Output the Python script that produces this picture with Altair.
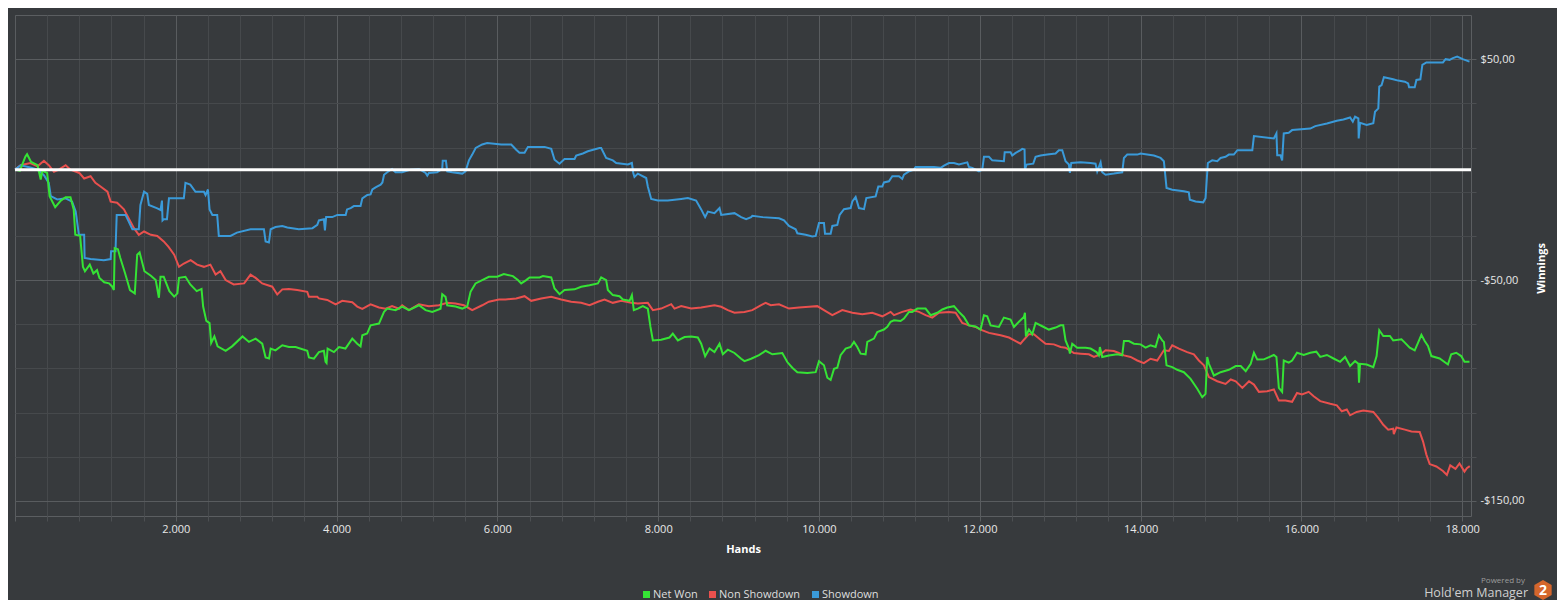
import altair as alt
import pandas as pd

# ---- Data (hands, winnings in $) ----
NET_WON = [
    (0, 0), (60, -0.5), (130, 6), (150, 7), (200, 3.5), (280, 2), (320, -4.5), (340, -0.5), (400, -1.5),
    (430, -12), (500, -17), (570, -14), (630, -12.5), (690, -12.5), (730, -18), (750, -29.5), (810, -30),
    (845, -44), (870, -46), (930, -43), (975, -47), (1020, -45.5), (1050, -49), (1110, -51), (1170, -51.5),
    (1210, -53), (1230, -54.5), (1240, -35.5), (1280, -36), (1310, -40), (1370, -47), (1430, -54.5),
    (1490, -56), (1520, -38.5), (1550, -37.5), (1610, -46), (1690, -48), (1750, -50), (1790, -58),
    (1810, -48.5), (1850, -48.5), (1920, -55), (1980, -57.5), (2020, -56), (2040, -49), (2120, -48.5),
    (2180, -52), (2260, -55), (2320, -54), (2340, -62), (2380, -68.5), (2420, -69.5), (2440, -78.5),
    (2480, -75.5), (2520, -80), (2620, -82), (2700, -80), (2830, -75.5), (2910, -78), (2993, -76.5),
    (3075, -78.8), (3117, -85), (3160, -85.5), (3180, -81), (3240, -81.8), (3325, -79.5), (3407, -80.3),
    (3490, -80.3), (3635, -82), (3656, -85), (3718, -85.6), (3780, -82.6), (3842, -82), (3863, -87),
    (3875, -87.5), (3888, -81), (3967, -82.6), (4030, -80.3), (4110, -81), (4195, -76.5), (4257, -78.8),
    (4298, -80), (4320, -75), (4380, -74.2), (4423, -70.5), (4527, -69.7), (4590, -64.4), (4630, -62.9),
    (4733, -63.6), (4816, -62), (4900, -63.6), (5024, -61.4), (5107, -63.6), (5190, -64.4), (5293, -63),
    (5314, -56.4), (5355, -57.6), (5376, -61.4), (5480, -62), (5563, -62.9), (5625, -62), (5666, -55.3),
    (5728, -51.5), (5811, -50), (5894, -48.5), (5998, -48.5), (6080, -47.3), (6193, -48.2), (6255, -50),
    (6296, -51.5), (6358, -50), (6400, -48.8), (6525, -48.8), (6566, -48.2), (6670, -48.8), (6711, -53.8),
    (6773, -56.4), (6835, -54.5), (6960, -54.2), (7042, -53), (7146, -52.3), (7250, -51.5), (7291, -48.8),
    (7353, -50), (7374, -54.5), (7436, -56.8), (7519, -57.3), (7561, -58.8), (7644, -59.4), (7673, -56.8),
    (7697, -63.6), (7747, -62.9), (7809, -61.8), (7871, -62.9), (7904, -71.2), (7934, -77.3), (8037, -77),
    (8141, -76), (8182, -74.2), (8245, -77.3), (8328, -75.8), (8410, -75.5), (8493, -76), (8535, -78.8),
    (8584, -84.5), (8638, -81), (8700, -82.6), (8763, -78.8), (8804, -83.6), (8866, -81.5), (8949, -83),
    (9032, -85.6), (9073, -86.7), (9156, -85.6), (9254, -84), (9337, -82), (9420, -83.6), (9544, -83),
    (9606, -87.1), (9668, -89.7), (9731, -91.7), (9855, -92.1), (9959, -91.7), (10000, -86.7),
    (10062, -88.6), (10104, -94.2), (10145, -95.2), (10187, -90.2), (10228, -89.7), (10269, -84),
    (10332, -81), (10394, -80.3), (10435, -78), (10477, -80.3), (10518, -83.3), (10580, -83.6),
    (10601, -78), (10684, -76.5), (10725, -73.5), (10808, -72.4), (10850, -71.2), (10891, -68.9),
    (10933, -68.2), (11015, -68.5), (11057, -67.4), (11119, -64.4), (11161, -64.4), (11223, -62.9),
    (11326, -62.9), (11389, -65.9), (11471, -64.8), (11534, -63.3), (11596, -62.4), (11679, -61.8),
    (11741, -64.4), (11803, -66.7), (11865, -70.5), (11948, -71), (12010, -72.4), (12052, -65.9),
    (12093, -66.4), (12135, -70.5), (12238, -71.2), (12300, -67), (12383, -67.9), (12425, -71.2),
    (12487, -68.9), (12549, -66.7), (12562, -64.8), (12574, -75.5), (12611, -72.4), (12653, -74.5),
    (12694, -69.4), (12777, -70.9), (12860, -72.4), (12943, -71.5), (13005, -70.5), (13038, -70.5),
    (13067, -77.3), (13109, -81), (13121, -83.3), (13150, -78.8), (13212, -80.6), (13316, -80.6),
    (13378, -81), (13452, -82.6), (13481, -84.1), (13494, -80.3), (13523, -84.8), (13606, -84.1),
    (13710, -83.6), (13772, -84.1), (13793, -77.6), (13855, -77.6), (13917, -78.8), (14000, -79.1),
    (14062, -80.6), (14124, -79.5), (14187, -80.3), (14228, -75), (14269, -77.3), (14290, -78),
    (14323, -88.6), (14394, -89.4), (14456, -90.6), (14539, -91.7), (14622, -94.7), (14705, -99.2),
    (14767, -103), (14808, -101.5), (14829, -84.8), (14850, -87.9), (14912, -93.2), (14995, -91.7),
    (15098, -90.6), (15184, -88.9), (15246, -88.9), (15308, -91.2), (15370, -87.9), (15410, -82.9),
    (15452, -86), (15534, -85.9), (15658, -83.9), (15690, -84.8), (15720, -98.8), (15761, -100.6),
    (15781, -86.4), (15843, -87.4), (15885, -86.4), (15946, -82.9), (16029, -83.9), (16111, -82.9),
    (16186, -82.4), (16235, -84.8), (16318, -83.9), (16400, -85.5), (16482, -87), (16544, -84.8),
    (16606, -88.9), (16668, -86.7), (16709, -87.9), (16717, -96.5), (16730, -87.9), (16812, -88.2),
    (16895, -89.4), (16936, -84.4), (16969, -72.7), (17019, -75.3), (17101, -75.3), (17142, -77.3),
    (17245, -76.8), (17287, -78.3), (17348, -80.6), (17410, -81.8), (17452, -78.3), (17493, -74.8),
    (17534, -77.6), (17575, -79.8), (17617, -84.4), (17720, -85.5), (17823, -88.2), (17864, -83.6),
    (17926, -82.9), (17988, -84.4), (18029, -87), (18091, -87),
]

NON_SHOWDOWN = [
    (0, 0), (70, 2), (190, 3), (280, 1.5), (360, 4), (420, 2), (485, -1), (545, 0), (630, 2), (690, 0),
    (800, -1.5), (860, -4), (940, -3), (1000, -6), (1060, -7.5), (1150, -10), (1190, -14.5), (1270, -15),
    (1355, -18), (1420, -22.5), (1480, -26.5), (1540, -29.5), (1605, -28), (1690, -29.5), (1770, -30),
    (1850, -32.5), (1910, -35), (1980, -38.5), (2040, -44), (2100, -42.5), (2185, -41), (2265, -43),
    (2350, -44), (2430, -43), (2495, -47.5), (2555, -46), (2620, -50), (2720, -52), (2850, -51.5),
    (2930, -47.5), (2993, -49), (3075, -51.5), (3200, -53), (3262, -56.5), (3325, -54.2), (3407, -54),
    (3510, -54.5), (3635, -55.3), (3656, -57.6), (3760, -57.6), (3780, -58.3), (3884, -59), (3988, -61),
    (4070, -59.4), (4195, -60), (4257, -62), (4320, -63), (4423, -61), (4527, -62.4), (4610, -63),
    (4690, -61.8), (4775, -63), (4816, -61.4), (4900, -63.6), (5024, -61), (5148, -61.8), (5272, -61.4),
    (5376, -60.3), (5480, -60.6), (5583, -61.4), (5687, -63.6), (5811, -61.4), (5894, -59.8),
    (6019, -58.8), (6100, -58.8), (6234, -58.3), (6338, -57.3), (6421, -59.4), (6545, -58.3),
    (6670, -57.6), (6794, -58.8), (6918, -59.8), (7042, -60.3), (7146, -61.4), (7250, -59.8),
    (7333, -58.8), (7436, -60.3), (7540, -59.4), (7664, -60.3), (7747, -60.6), (7871, -60.3),
    (7934, -63.6), (8037, -62.9), (8162, -60.9), (8203, -62.9), (8286, -61.8), (8410, -62.9),
    (8535, -62.4), (8700, -61.4), (8784, -62.1), (8866, -63.6), (8949, -64.8), (9073, -64.4),
    (9171, -63.6), (9275, -61.4), (9337, -60.3), (9400, -61.4), (9503, -61), (9627, -62.9),
    (9751, -62.4), (9876, -62.1), (9979, -61.8), (10062, -63.6), (10166, -65.9), (10290, -63.6),
    (10415, -64.8), (10539, -65.5), (10663, -64.8), (10788, -66.4), (10891, -64.4), (10933, -65.9),
    (11036, -64.4), (11140, -63.3), (11244, -64.4), (11326, -65.9), (11409, -67), (11492, -64.8),
    (11617, -64.4), (11700, -64.8), (11782, -69.4), (11865, -70.5), (11948, -71.2), (12010, -72.4),
    (12114, -73.9), (12197, -74.5), (12259, -75), (12363, -76), (12446, -77.6), (12507, -78.8),
    (12549, -77), (12611, -74.5), (12673, -74.5), (12756, -77), (12819, -78.8), (12922, -79.1),
    (13005, -80.3), (13067, -80.6), (13171, -83), (13254, -83.3), (13357, -83.6), (13420, -84.8),
    (13503, -83.6), (13565, -81.8), (13668, -82.1), (13730, -83), (13793, -84.1), (13876, -84.8),
    (13959, -86.4), (14041, -87.6), (14124, -85.6), (14207, -86.4), (14290, -81.8), (14352, -82.1),
    (14394, -79.5), (14477, -81), (14580, -82.6), (14663, -83.6), (14725, -86.4), (14788, -88.6),
    (14850, -93.9), (14954, -95.8), (15057, -97), (15122, -95), (15184, -95.8), (15266, -98.8),
    (15349, -95.8), (15410, -97.3), (15472, -100.6), (15575, -100.3), (15658, -99.5), (15720, -104.5),
    (15802, -104.5), (15885, -105.1), (15946, -101.1), (16008, -101.8), (16091, -100.6), (16153, -102.6),
    (16235, -104.8), (16359, -106), (16441, -106.7), (16503, -109.4), (16565, -108.6), (16606, -111.2),
    (16688, -109.7), (16771, -109.1), (16895, -109.7), (16957, -112.4), (17019, -115.5), (17080, -117.7),
    (17142, -117.3), (17150, -119.7), (17183, -116.7), (17287, -117.7), (17369, -118.5), (17472, -118.8),
    (17513, -123), (17555, -129), (17596, -133.3), (17679, -134.4), (17761, -136.4), (17810, -138.2),
    (17852, -133.9), (17917, -135.5), (17967, -133), (18029, -136.7), (18058, -135.2), (18095, -134.2),
]

SHOWDOWN = [
    (0, 0), (70, 2), (190, 1), (280, 0), (360, -2.5), (420, -6), (445, -12), (525, -13.5), (630, -13),
    (710, -14.5), (755, -19), (795, -29.5), (860, -29.5), (866, -40), (940, -40.5), (1105, -41),
    (1190, -40.5), (1195, -37), (1250, -37), (1265, -20.5), (1375, -20.5), (1460, -27), (1540, -27),
    (1560, -16), (1605, -10), (1645, -11), (1665, -16), (1770, -17.5), (1810, -18.3), (1828, -14),
    (1835, -23), (1850, -22.5), (1890, -22.5), (1915, -13), (2100, -13), (2120, -6), (2180, -6.8),
    (2245, -10), (2350, -10), (2370, -11.5), (2400, -9), (2420, -18), (2455, -20.5), (2515, -20.5),
    (2535, -30), (2680, -30), (2760, -28.5), (2930, -27), (3096, -27), (3117, -32.5), (3158, -33),
    (3180, -27), (3240, -26), (3325, -25.5), (3387, -26.2), (3530, -27), (3700, -26.5), (3760, -25),
    (3780, -23), (3842, -22.5), (3855, -27.5), (3870, -21.5), (3946, -21.5), (4010, -20.5), (4113, -20.5),
    (4130, -18), (4175, -17.4), (4215, -16.5), (4298, -16.5), (4320, -13), (4382, -11.5), (4423, -11.2),
    (4445, -9), (4485, -8), (4548, -6.8), (4570, -5.8), (4590, -2.3), (4630, -1.2), (4690, 0.3),
    (4733, -1.2), (4816, -1.2), (4920, 0), (5024, 0.3), (5107, -1.5), (5128, -2.7), (5148, -1.5),
    (5250, -1.2), (5314, 0.3), (5320, 4), (5360, 4), (5376, -0.8), (5438, -1.2), (5563, -1.8),
    (5604, -0.8), (5646, 4.2), (5687, 6.8), (5730, 9.8), (5811, 11.4), (5873, 12), (6048, 11.4),
    (6172, 11.4), (6234, 9), (6275, 7.6), (6338, 7.6), (6380, 10.3), (6587, 10.3), (6670, 9.4),
    (6711, 4.5), (6773, 2.7), (6835, 4.8), (6960, 4.8), (6980, 6.4), (7063, 7.3), (7125, 8.3),
    (7270, 9.8), (7291, 9.8), (7353, 5.3), (7436, 4.2), (7478, 3), (7623, 2.3), (7673, 3), (7690, -1.5),
    (7705, -3.3), (7747, -1.8), (7851, -3.8), (7871, -7.6), (7913, -13.3), (7996, -14), (8120, -14),
    (8286, -13.3), (8369, -12.9), (8472, -14), (8535, -18), (8584, -21.5), (8618, -19), (8700, -19.7),
    (8763, -17.4), (8784, -20.5), (8949, -19.7), (9032, -21.5), (9094, -22.4), (9156, -21.5),
    (9171, -20.9), (9295, -21.5), (9503, -22), (9565, -23), (9627, -25.5), (9710, -27), (9731, -28.8),
    (9834, -29.5), (9917, -30.3), (9959, -30), (10000, -24.2), (10062, -24.2), (10075, -29),
    (10145, -29), (10166, -25.5), (10228, -25), (10257, -20.5), (10311, -17.9), (10394, -17.4),
    (10415, -14.4), (10456, -12.4), (10497, -17.4), (10560, -17.9), (10589, -12.9), (10705, -12.1),
    (10738, -7.6), (10788, -7.6), (10808, -5.8), (10870, -5.3), (10912, -3), (10995, -3), (11036, -4.2),
    (11057, -2.3), (11119, -0.8), (11181, 0), (11202, 1.2), (11430, 1.2), (11513, 0.8), (11555, 1.8),
    (11617, 3), (11679, 3), (11741, 2.3), (11845, 3.3), (11865, 1.2), (11907, 0.8), (11990, -0.8),
    (12031, 0), (12052, 5.8), (12114, 5.8), (12155, 4.2), (12300, 3.8), (12310, 7.9), (12383, 7.9),
    (12404, 6.4), (12446, 7.6), (12507, 8.8), (12528, 9.4), (12557, 9.1), (12562, 0), (12582, 2.3),
    (12665, 2.7), (12694, 5.8), (12756, 6.4), (12839, 6.8), (12943, 7.3), (12984, 8.8), (13026, 8.8),
    (13067, 3.8), (13109, 2.3), (13121, -1.5), (13138, 3), (13254, 3.3), (13378, 3), (13440, 2.7),
    (13461, -0.8), (13503, 3.3), (13523, -1.2), (13565, -2.3), (13668, -1.8), (13772, -1.2),
    (13793, 5.3), (13834, 6.8), (13959, 6.8), (14000, 7.3), (14166, 6.4), (14249, 5.3), (14290, 3.8),
    (14323, -8.3), (14394, -9.1), (14539, -9.8), (14600, -10.3), (14613, -13.6), (14684, -14.4),
    (14779, -14.8), (14808, -12.9), (14837, 3), (14891, 4.2), (14954, 3.8), (14995, 5.3), (15057, 5.8),
    (15098, 6.8), (15160, 6.8), (15204, 8.8), (15390, 8.8), (15410, 15.2), (15658, 14.1), (15690, 16.4),
    (15700, 6.5), (15740, 6.5), (15761, 4.2), (15781, 16.4), (15843, 16.7), (15885, 17.9), (16111, 18.6),
    (16173, 19.7), (16318, 20.9), (16441, 22.1), (16523, 22.7), (16606, 23.6), (16640, 21.7),
    (16668, 24), (16709, 23.2), (16713, 14.1), (16730, 21.2), (16812, 20.2), (16895, 21), (16916, 26.2),
    (16957, 27.7), (16969, 37.6), (16998, 38.3), (17027, 41.8), (17142, 40.9), (17204, 40.3),
    (17287, 39.8), (17328, 39), (17340, 37.3), (17410, 37.3), (17431, 40.6), (17480, 40.9),
    (17505, 47.4), (17555, 48.5), (17761, 48.5), (17794, 50), (17843, 49.7), (17885, 50.5),
    (17938, 51.2), (18008, 50), (18091, 48.9),
]

SERIES_NAMES = ["Net Won", "Non Showdown", "Showdown"]
SERIES_COLORS = ["#35e335", "#e9504e", "#3a9ad9"]
X_TICKS = list(range(0, 18001, 400))
Y_TICKS = list(range(-150, 61, 10))

BG = "#373a3d"
FONT = "Open Sans"


def frame(points, name):
    return pd.DataFrame({"hands": [p[0] for p in points],
                         "winnings": [p[1] for p in points],
                         "series": name})


x_enc = alt.X(
    "hands:Q",
    scale=alt.Scale(domain=[0, 18110], nice=False, zero=False),
    axis=alt.Axis(
        values=X_TICKS, title="Hands", domain=False,
        labelExpr="datum.value % 2000 === 0 && datum.value > 0 ? replace(format(datum.value, ','), ',', '.') : ''",
        gridColor={"condition": {"test": "datum.value % 2000 === 0", "value": "#595c5f"}, "value": "#46494c"},
        tickColor={"condition": {"test": "datum.value % 2000 === 0", "value": "#595c5f"}, "value": "#4c4f52"},
        tickSize=5, labelPadding=2, titlePadding=9, labelFlush=False,
    ),
)
y_enc = alt.Y(
    "winnings:Q",
    scale=alt.Scale(domain=[-156.8, 70], nice=False, zero=False),
    axis=alt.Axis(
        orient="right", values=Y_TICKS, title="Winnings", domain=False,
        labelExpr="datum.value % 50 === 0 ? (datum.value < 0 ? '-' : '') + '$' + abs(datum.value) + ',00' : ''",
        gridColor={"condition": {"test": "datum.value % 50 === 0", "value": "#595c5f"}, "value": "#46494c"},
        tickColor={"condition": {"test": "datum.value % 50 === 0", "value": "#595c5f"}, "value": "#4c4f52"},
        tickSize=5, labelPadding=4, titleAngle=270, titleX=70, titleY=253,
        titleAlign="center", titleBaseline="middle",
    ),
)
color_enc = alt.Color(
    "series:N",
    scale=alt.Scale(domain=SERIES_NAMES, range=SERIES_COLORS),
    legend=alt.Legend(
        title=None, orient="none", direction="horizontal", legendX=626, legendY=574,
        symbolType="square", symbolSize=1, symbolStrokeWidth=6, symbolOpacity=1,
        labelFontSize=11, labelColor="#dedede", labelFont=FONT, columnPadding=2, labelOffset=1,
    ),
)


def line_layer(points, name):
    return alt.Chart(frame(points, name)).mark_line(strokeWidth=2, interpolate="linear").encode(
        x=x_enc, y=y_enc, color=color_enc, order="hands:Q"
    )


zero_rule = alt.Chart(pd.DataFrame({"v": [0]})).mark_rule(color="#ffffff", strokeWidth=3).encode(
    y=alt.Y("v:Q")
)

one = pd.DataFrame({"k": [0]})
powered = alt.Chart(one).mark_text(align="right", baseline="middle", fontSize=8, color="#9c9c9c", font=FONT).encode(
    x=alt.value(1510), y=alt.value(566), text=alt.value("Powered by"))
hem = alt.Chart(one).mark_text(align="right", baseline="middle", fontSize=12.5, color="#cfcfcf", font=FONT).encode(
    x=alt.value(1513), y=alt.value(578), text=alt.value("Hold'em Manager"))
hexagon = alt.Chart(one).mark_point(
    shape="M0,-1L0.866,-0.5L0.866,0.5L0,1L-0.866,0.5L-0.866,-0.5Z",
    filled=True, fill="#d4662c", opacity=1, strokeWidth=0, size=400,
).encode(x=alt.value(1528), y=alt.value(575))
two = alt.Chart(one).mark_text(align="center", baseline="middle", fontSize=14, fontWeight="bold",
                               color="#ffffff", font=FONT).encode(
    x=alt.value(1528), y=alt.value(576), text=alt.value("2"))

chart = alt.layer(
    line_layer(NON_SHOWDOWN, "Non Showdown"),
    line_layer(SHOWDOWN, "Showdown"),
    line_layer(NET_WON, "Net Won"),
    zero_rule,
    powered, hem, hexagon, two,
).properties(
    width=1456, height=501,
    padding={"left": 7, "top": 7, "right": 86, "bottom": 84},
    autosize=alt.AutoSizeParams(type="none"),
    background=BG,
).configure_view(
    stroke="#5b5e61", strokeWidth=1, fill=BG,
).configure_axis(
    labelFont=FONT, titleFont=FONT, labelFontSize=11, titleFontSize=11,
    labelColor="#e8e8e8", titleColor="#ffffff", titleFontWeight="bold", gridWidth=1,
)

chart.save("out.html", embed_options={"renderer": "svg", "actions": False})
